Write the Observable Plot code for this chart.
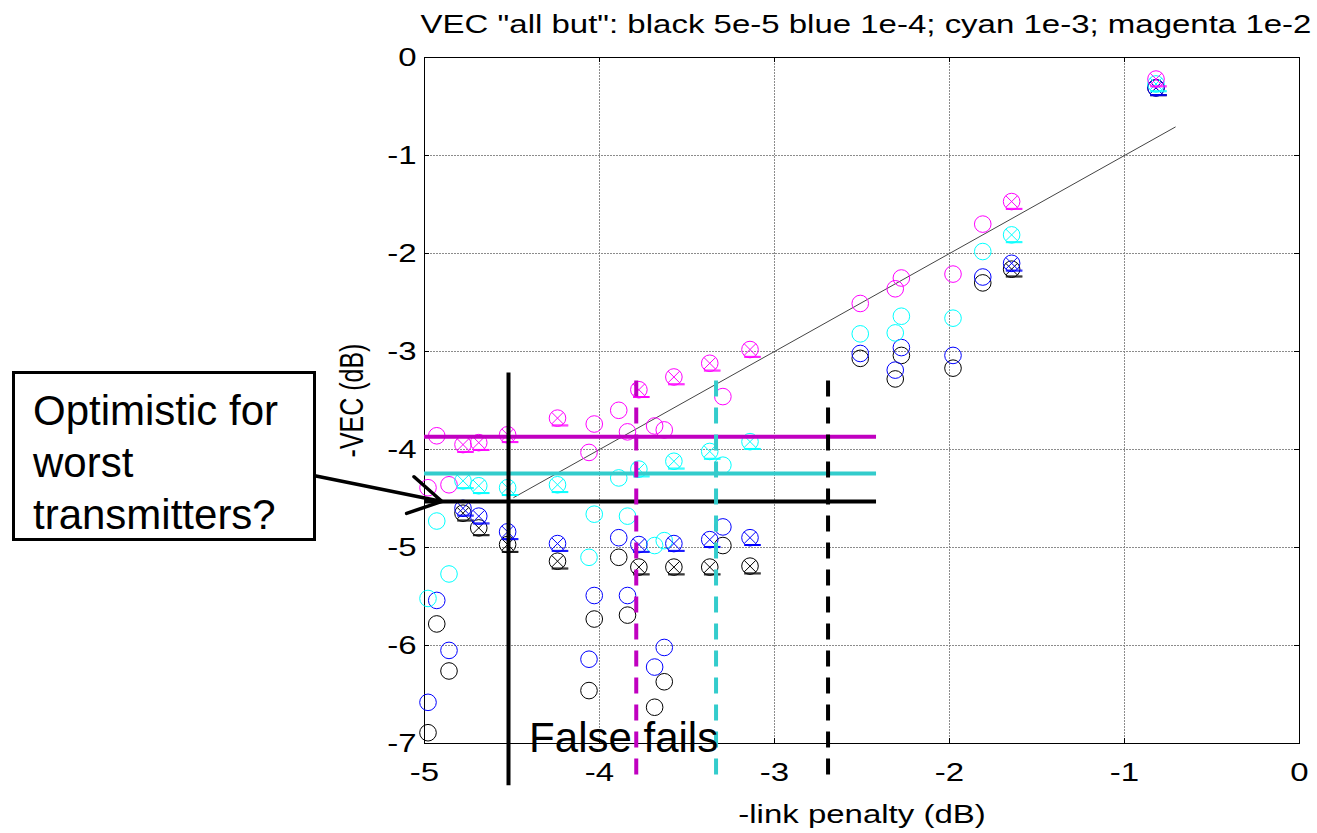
<!DOCTYPE html>
<html>
<head>
<meta charset="utf-8">
<script src="https://cdn.jsdelivr.net/npm/d3@7"></script>
<script src="https://cdn.jsdelivr.net/npm/@observablehq/plot@0.6"></script>
<style>
  body { margin: 0; background: #fff; }
  #wrap { position: relative; width: 1317px; height: 833px; font-family: "Liberation Sans", Arial, sans-serif; }
  #wrap svg { position: absolute; left: 0; top: 0; }
  #note {
    position: absolute; left: 12px; top: 371px; width: 304px; height: 170px;
    box-sizing: border-box; border: 3px solid #000; background: #fff;
    font-size: 42px; line-height: 52px; padding: 11px 0 0 18px; color: #000;
    white-space: nowrap; overflow: visible;
  }
</style>
</head>
<body>
<div id="wrap"><div id="note">Optimistic for<br>worst<br>transmitters?</div></div>
<script>
// ---- data ----
const titleText = 'VEC "all but": black 5e-5 blue 1e-4; cyan 1e-3; magenta 1e-2';
const xLabel = "-link penalty (dB)";
const yLabel = "-VEC (dB)";
const xTicks = [-5, -4, -3, -2, -1, 0];
const xTickLabels = ["-5", "-4", "-3", "-2", "-1", "0"];
const yTicks = [0, -1, -2, -3, -4, -5, -6, -7];
const yTickLabels = ["0", "-1", "-2", "-3", "-4", "-5", "-6", "-7"];

// link penalty per transmitter (x) and marker type (1 = circle with cross)
const txX = [-4.98, -4.93, -4.86, -4.78, -4.69, -4.525, -4.24, -4.06, -4.03, -3.89, -3.84, -3.775, -3.685,
             -3.63, -3.575, -3.37, -3.295, -3.14, -2.51, -2.31, -2.275, -1.98, -1.81, -1.645, -0.82];
const txCrossed = [0, 0, 0, 1, 1, 1, 1, 0, 0, 0, 0, 1, 0, 0, 1, 1, 0, 1, 0, 0, 0, 0, 0, 1, 1];

const vecBlack   = [-6.89, -5.78, -6.26, -4.65, -4.80, -4.97, -5.14, -6.46, -5.73, -5.10, -5.69, -5.20, -6.63,
                    -6.37, -5.20, -5.20, -4.98, -5.19, -3.07, -3.28, -3.04, -3.17, -2.30, -2.16, -0.31];
const vecBlue    = [-6.58, -5.54, -6.05, -4.60, -4.68, -4.84, -4.96, -6.14, -5.49, -4.90, -5.49, -4.97, -6.22,
                    -6.02, -4.96, -4.92, -4.79, -4.90, -3.02, -3.19, -2.96, -3.04, -2.24, -2.10, -0.31];
const vecCyan    = [-5.52, -4.73, -5.27, -4.32, -4.37, -4.39, -4.36, -5.10, -4.66, -4.29, -4.68, -4.20, -4.98,
                    -4.93, -4.12, -4.02, -4.16, -3.92, -2.82, -2.81, -2.64, -2.66, -1.98, -1.81, -0.27];
const vecMagenta = [-4.39, -3.86, -4.36, -3.95, -3.93, -3.85, -3.68, -4.03, -3.74, -3.60, -3.82, -3.39, -3.76,
                    -3.80, -3.26, -3.12, -3.46, -2.98, -2.51, -2.36, -2.25, -2.21, -1.70, -1.47, -0.22];

const seriesNames = ["black", "blue", "cyan", "magenta"];
const seriesColors = ["#000000", "#0000ff", "#00ffff", "#ff00ff"];
const seriesValues = [vecBlack, vecBlue, vecCyan, vecMagenta];

// fit line (y = x)
const fitX = [-4.49, -0.71];
const fitY = [-4.49, -0.71];

// threshold lines
const hLineY = [-3.87, -4.245, -4.53];
const hLineColor = ["#c000c0", "#33cccc", "#000000"];
const hLineX1 = -5, hLineX2 = -2.417;
const vLineX = [-4.52, -3.79, -3.334, -2.694];
const vLineTop = [-3.22, -3.30, -3.30, -3.30];
const vLineBottom = -7.43;
const vLineColor = ["#000000", "#c000c0", "#33cccc", "#000000"];
const vLineDash = [null, "16,11", "16,11", "16,11"];

// annotations
const falseFailsText = "False fails";
const falseFailsX = -3.862, falseFailsY = -6.95;
const arrowFrom = [-5.62, -4.27], arrowTo = [-4.90, -4.53];

// ---- build ----
const W = 1317, H = 833, ML = 424, MR = 18, MT = 57, MB = 90;
const FW = W - ML - MR, FH = H - MT - MB;

const points = seriesNames.flatMap((s, k) =>
  txX.map((x, i) => ({x, y: seriesValues[k][i], s, crossed: txCrossed[i]})));

const crossedCircle = {
  draw(ctx, size) {
    const r = Math.sqrt(size / Math.PI);
    ctx.moveTo(r, 0);
    ctx.arc(0, 0, r, 0, 2 * Math.PI);
    const a = r * 0.707;
    ctx.moveTo(-a, -a); ctx.lineTo(a, a);
    ctx.moveTo(-a, a); ctx.lineTo(a, -a);
    ctx.moveTo(-0.7 * r, 0.82 * r); ctx.lineTo(1.3 * r, 0.82 * r);
    ctx.moveTo(-0.7 * r, 0.82 * r + 1); ctx.lineTo(1.3 * r, 0.82 * r + 1);
  }
};

const gridStyle = {stroke: "#808080", strokeOpacity: 0.9, strokeWidth: 1, strokeDasharray: "2,1"};

const marks = [
  Plot.gridX(xTicks, gridStyle),
  Plot.gridY(yTicks, gridStyle),
  // inward ticks on all four sides
  Plot.tickY(yTicks, {y: d => d, insetRight: FW - 5, stroke: "black"}),
  Plot.tickY(yTicks, {y: d => d, insetLeft: FW - 5, stroke: "black"}),
  Plot.tickX(xTicks, {x: d => d, insetBottom: FH - 5, stroke: "black"}),
  Plot.tickX(xTicks, {x: d => d, insetTop: FH - 5, stroke: "black"}),
  Plot.frame({stroke: "black", strokeWidth: 1}),
  Plot.axisX(xTicks, {anchor: "bottom", tickSize: 0, tickPadding: 20, fontSize: 25,
    tickFormat: d => xTickLabels[xTicks.indexOf(d)], label: null}),
  Plot.axisY(yTicks, {anchor: "left", tickSize: 0, tickPadding: 8, fontSize: 25,
    tickFormat: d => yTickLabels[yTicks.indexOf(d)], label: null}),
  Plot.text([titleText], {frameAnchor: "top", text: d => d, dx: 4, dy: -33, fontSize: 25, lineAnchor: "middle", textAnchor: "middle"}),
  Plot.text([xLabel], {frameAnchor: "bottom", text: d => d, dy: 71, fontSize: 25, lineAnchor: "middle", textAnchor: "middle"}),
  Plot.text([yLabel], {frameAnchor: "left", text: d => d, dx: -72, rotate: -90, fontSize: 25, lineAnchor: "middle", textAnchor: "middle"}),
  // fit line
  Plot.line(fitX.map((x, i) => ({x, y: fitY[i]})), {x: "x", y: "y", stroke: "#444", strokeWidth: 1}),
  // markers
  Plot.dot(points.filter(d => !d.crossed), {x: "x", y: "y", stroke: "s", fill: "none", r: 8.3, strokeWidth: 1, symbol: "circle"}),
  Plot.dot(points.filter(d => d.crossed), {x: "x", y: "y", stroke: "s", fill: "none", r: 8.3, strokeWidth: 1, symbol: crossedCircle}),
  // horizontal threshold lines
  ...hLineY.map((y, i) => Plot.ruleY([y], {y: d => d, x1: hLineX1, x2: hLineX2, stroke: hLineColor[i], strokeWidth: 4})),
  // vertical lines
  ...vLineX.map((x, i) => Plot.ruleX([x], {x: d => d, y1: vLineTop[i], y2: vLineBottom, stroke: vLineColor[i], strokeWidth: 4,
    strokeDasharray: vLineDash[i] || undefined})),
  // annotations
  Plot.text([falseFailsText], {x: falseFailsX, y: falseFailsY, text: d => d, fontSize: 42, lineAnchor: "middle", textAnchor: "middle", fill: "black"}),
  Plot.arrow([0], {x1: arrowFrom[0], y1: arrowFrom[1], x2: arrowTo[0], y2: arrowTo[1], stroke: "black", strokeWidth: 3.5, headLength: 16, headAngle: 60})
];

const svg = Plot.plot({
  width: W, height: H,
  marginLeft: ML, marginRight: MR, marginTop: MT, marginBottom: MB,
  x: {domain: [-5, 0]},
  y: {domain: [-7, 0]},
  color: {domain: seriesNames, range: seriesColors},
  style: {fontFamily: '"Liberation Sans", Arial, sans-serif', background: "white", color: "black", overflow: "visible"},
  marks
});

// MATLAB text in the reference is horizontally stretched
const S = 1.32;
svg.querySelectorAll("text").forEach(t => {
  const g = t.closest("[font-size]");
  const fs = g ? parseFloat(g.getAttribute("font-size")) : NaN;
  if (fs !== 25) return;
  const tr = t.getAttribute("transform");
  if (tr) {
    t.setAttribute("transform", tr + (tr.includes("rotate") ? ` scale(1,${S})` : ` scale(${S},1)`));
  } else {
    const x = +t.getAttribute("x") || 0, y = +t.getAttribute("y") || 0;
    t.setAttribute("transform", `translate(${x},${y}) scale(${S},1) translate(${-x},${-y})`);
  }
});

const wrap = document.getElementById("wrap");
wrap.insertBefore(svg, wrap.firstChild);
</script>
</body>
</html>
